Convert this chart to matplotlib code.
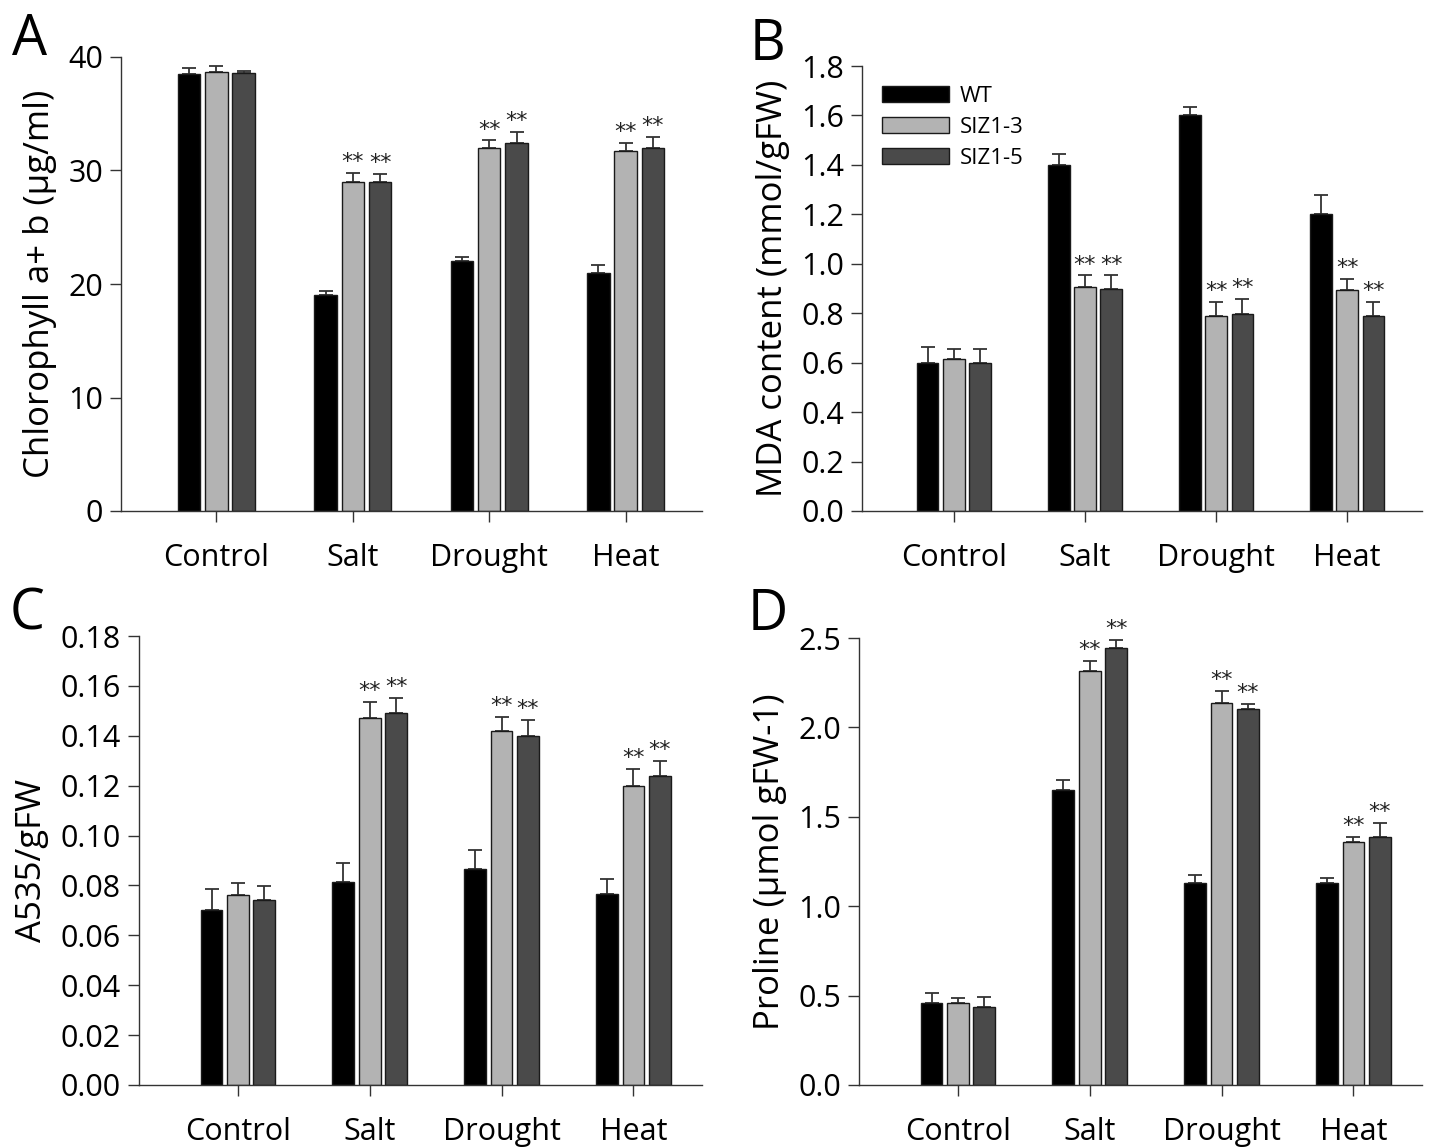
import matplotlib
matplotlib.use("Agg")
import matplotlib.pyplot as plt
import numpy as np

plt.rcParams['font.family'] = ['Open Sans', 'DejaVu Sans']

categories = ["Control", "Salt", "Drought", "Heat"]
series = ["WT", "SIZ1-3", "SIZ1-5"]
colors = ["#000000", "#b3b3b3", "#4a4a4a"]

# Panel A: Chlorophyll a+b
chl_mean = [[38.5, 19.0, 22.0, 21.0],
            [38.7, 29.0, 32.0, 31.7],
            [38.6, 29.0, 32.4, 32.0]]
chl_err = [[0.5, 0.35, 0.4, 0.7],
           [0.55, 0.8, 0.65, 0.75],
           [0.2, 0.7, 1.0, 0.95]]
# Panel B: MDA content
mda_mean = [[0.60, 1.40, 1.60, 1.20],
            [0.614, 0.908, 0.789, 0.893],
            [0.598, 0.898, 0.798, 0.787]]
mda_err = [[0.065, 0.045, 0.036, 0.078],
           [0.042, 0.045, 0.057, 0.046],
           [0.058, 0.055, 0.061, 0.058]]
# Panel C: A535/gFW
a535_mean = [[0.070, 0.0812, 0.0865, 0.0767],
             [0.076, 0.147, 0.142, 0.120],
             [0.074, 0.149, 0.140, 0.124]]
a535_err = [[0.0087, 0.0076, 0.0078, 0.0057],
            [0.005, 0.0066, 0.0057, 0.0067],
            [0.0056, 0.006, 0.0063, 0.006]]
# Panel D: Proline
pro_mean = [[0.456, 1.65, 1.128, 1.128],
            [0.460, 2.315, 2.134, 1.357],
            [0.436, 2.446, 2.104, 1.388]]
pro_err = [[0.058, 0.054, 0.044, 0.032],
           [0.024, 0.056, 0.068, 0.032],
           [0.054, 0.042, 0.028, 0.078]]

# significance markers (series index, category index)
sig = [(1, 1), (2, 1), (1, 2), (2, 2), (1, 3), (2, 3)]

W, H = 1439, 1147
fig = plt.figure(figsize=(W / 100, H / 100), dpi=100)


def add_ax(left, right, top, bottom):
    return fig.add_axes([left / W, 1 - bottom / H, (right - left) / W, (bottom - top) / H])


panels = [
    dict(box=(121, 702, 57, 511), mean=chl_mean, err=chl_err, ylim=(0, 40),
         yticks=[0, 10, 20, 30, 40], fmt="{:.0f}", ylabel="Chlorophyll a+ b (μg/ml)",
         letter="A", lxy=(12, 55), xlim=(-0.70, 3.56)),
    dict(box=(862, 1422, 66, 511), mean=mda_mean, err=mda_err, ylim=(0, 1.8),
         yticks=np.arange(0, 1.81, 0.2), fmt="{:.1f}", ylabel="MDA content (mmol/gFW)",
         letter="B", lxy=(750, 60), xlim=(-0.70, 3.57)),
    dict(box=(139, 702, 636, 1085), mean=a535_mean, err=a535_err, ylim=(0, 0.18),
         yticks=np.arange(0, 0.181, 0.02), fmt="{:.2f}", ylabel="A535/gFW",
         letter="C", lxy=(10, 630), xlim=(-0.75, 3.52)),
    dict(box=(859, 1422, 638, 1085), mean=pro_mean, err=pro_err, ylim=(0, 2.5),
         yticks=[0, 0.5, 1.0, 1.5, 2.0, 2.5], fmt="{:.1f}", ylabel="Proline (μmol gFW-1)",
         letter="D", lxy=(748, 630), xlim=(-0.75, 3.52)),
]

x = np.arange(len(categories))
bw = 0.165
step = 0.2

for i, p in enumerate(panels):
    ax = add_ax(*p["box"])
    for s in range(3):
        xs = x + (s - 1) * step
        means = np.array(p["mean"][s])
        errs = np.array(p["err"][s])
        ax.bar(xs, means, width=bw, color=colors[s], edgecolor="#1a1a1a",
               linewidth=1.0, label=series[s], zorder=2)
        ax.errorbar(xs, means, yerr=[np.zeros_like(errs), errs], fmt="none",
                    ecolor="#333333", elinewidth=1.3, capsize=5, capthick=1.3, zorder=1)
    span = p["ylim"][1] - p["ylim"][0]
    for (s, c) in sig:
        xx = x[c] + (s - 1) * step
        yy = p["mean"][s][c] + p["err"][s][c] + span * 0.002
        ax.text(xx, yy, "**", ha="center", va="bottom", fontsize=16,
                color="#222222", family="DejaVu Sans")
    ax.set_xlim(*p["xlim"])
    ax.set_ylim(*p["ylim"])
    ax.set_xticks(x)
    ax.set_xticklabels(categories, fontsize=22)
    ax.set_yticks(p["yticks"])
    ax.set_yticklabels([p["fmt"].format(v) for v in p["yticks"]], fontsize=22)
    ax.tick_params(axis="x", direction="out", length=8, width=1, pad=15, color="#333333")
    ax.tick_params(axis="y", direction="out", length=8, width=1, pad=5, color="#333333")
    for sp in ["top", "right"]:
        ax.spines[sp].set_visible(False)
    for sp in ["left", "bottom"]:
        ax.spines[sp].set_linewidth(1.0)
        ax.spines[sp].set_color("#333333")
    ax.set_ylabel(p["ylabel"], fontsize=25, labelpad=8)
    fig.text(p["lxy"][0] / W, 1 - p["lxy"][1] / H, p["letter"], fontsize=40,
             ha="left", va="baseline")
    if p["letter"] == "B":
        ax.legend(loc="upper left", bbox_to_anchor=(0.0, 1.0), frameon=False,
                  fontsize=16, handlelength=3.0, handleheight=0.7, labelspacing=0.45,
                  handletextpad=0.5)

fig.savefig("out.png", dpi=100)
